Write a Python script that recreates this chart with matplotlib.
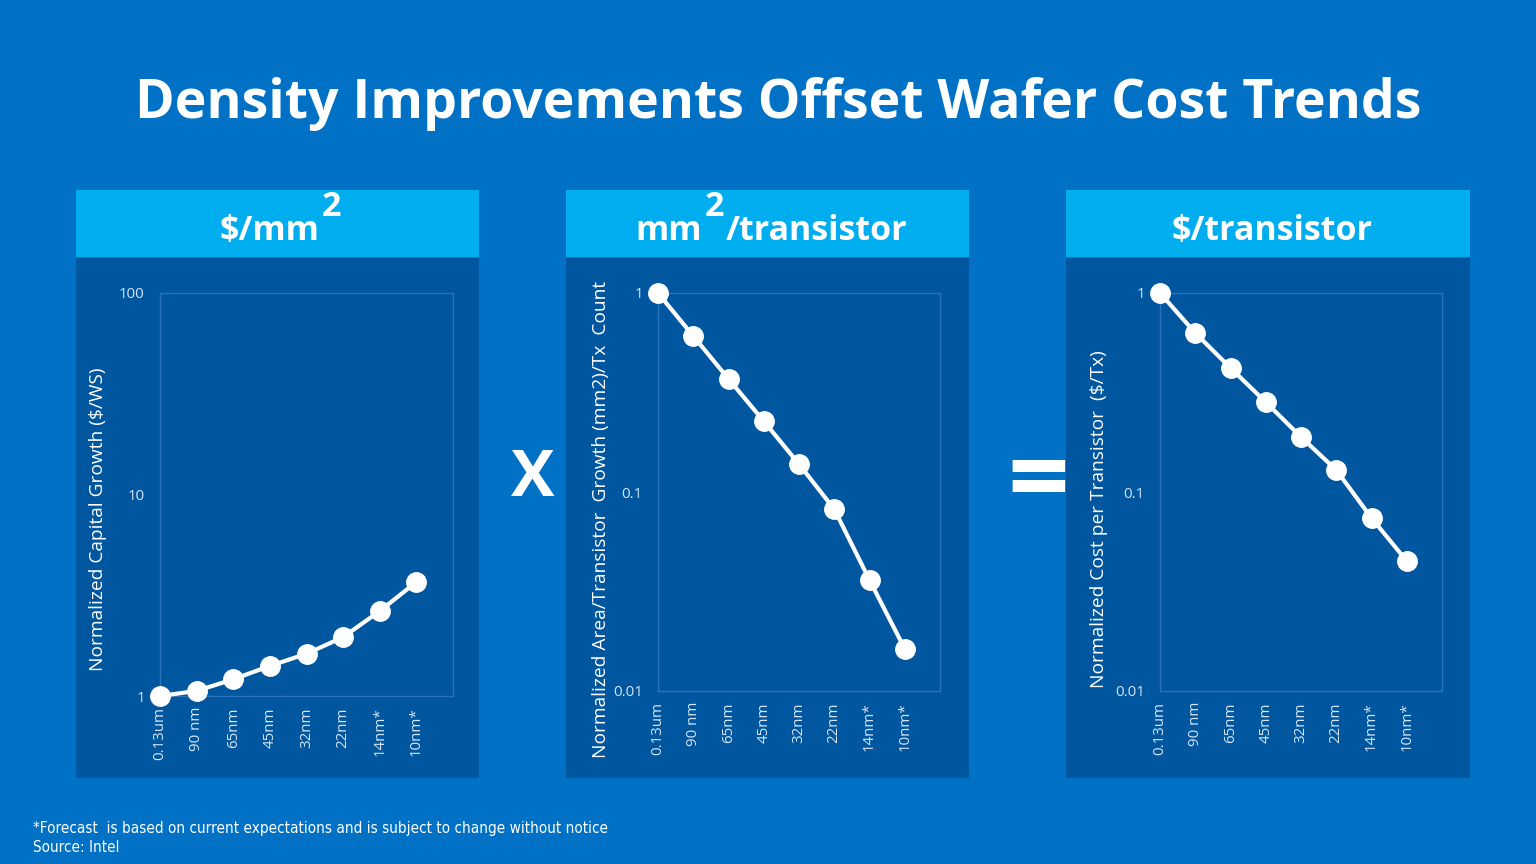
import matplotlib
matplotlib.use("Agg")
import matplotlib.pyplot as plt
from matplotlib.patches import Rectangle
from matplotlib.ticker import FixedLocator, NullLocator

# ---------------- data ----------------
nodes = ["0.13um", "90 nm", "65nm", "45nm", "32nm", "22nm", "14nm*", "10nm*"]
capital_growth = [1.0, 1.06, 1.21, 1.41, 1.62, 1.96, 2.64, 3.68]
area_per_tx = [1.0, 0.608, 0.37, 0.227, 0.138, 0.082, 0.0361, 0.0163]
cost_per_tx = [1.0, 0.63, 0.42, 0.283, 0.189, 0.129, 0.074, 0.045]

p1_ticks = [1, 10, 100]
p1_ticklabels = ["1", "10", "100"]
p23_ticks = [0.01, 0.1, 1]
p23_ticklabels = ["0.01", "0.1", "1"]

title = "Density Improvements Offset Wafer Cost Trends"
headers = [("$/mm", "2", ""), ("mm", "2", "/transistor"), ("$/transistor", "", "")]
ylabels = ["Normalized Capital Growth ($/WS)",
           "Normalized Area/Transistor  Growth (mm2)/Tx  Count",
           "Normalized Cost per Transistor  ($/Tx)"]
footnote = ["*Forecast  is based on current expectations and is subject to change without notice",
            "Source: Intel"]

# ---------------- style ----------------
W, H = 1536, 864
BG = "#0071C5"
PANEL = "#00569F"
HEAD = "#00AEEF"
FRAME = "#2A72BA"
TICK = "#D6E6F5"
FONT = ["Open Sans", "DejaVu Sans"]

fig = plt.figure(figsize=(W / 100, H / 100), dpi=100)
fig.patch.set_facecolor(BG)


def fx(x):
    return x / W


def fy(y):
    return 1 - y / H


def rect(x0, y0, x1, y1, color):
    fig.patches.append(Rectangle((fx(x0), fy(y1)), fx(x1) - fx(x0), fy(y0) - fy(y1),
                                 transform=fig.transFigure, facecolor=color,
                                 edgecolor="none", zorder=-5))


fig.text(fx(778), fy(104), title, ha="center", va="center", color="white",
         fontsize=38.6, fontweight="bold", family=FONT)

panels = [(76, 479), (566, 969), (1066, 1470)]
axes_px = [(160, 453, 293, 696), (658, 940, 293, 691), (1160, 1442, 293, 691)]
ylabel_x = [98, 601, 1099]
series = [capital_growth, area_per_tx, cost_per_tx]
ylims = [(1, 100), (0.01, 1), (0.01, 1)]
ticks = [(p1_ticks, p1_ticklabels), (p23_ticks, p23_ticklabels), (p23_ticks, p23_ticklabels)]

for (x0, x1) in panels:
    rect(x0, 190, x1, 257, HEAD)
    rect(x0, 258, x1, 778, PANEL)

fig.canvas.draw()
renderer = fig.canvas.get_renderer()

# headers with raised "2"
for (x0, x1), (a, sup, b) in zip(panels, headers):
    cx = (x0 + x1) / 2 + 4
    kw = dict(color="white", fontsize=24.5, fontweight="bold", family=FONT, va="baseline")
    ta = fig.text(0, 0, a, **kw)
    wa = ta.get_window_extent(renderer).width
    ts = fig.text(0, 0, sup, **kw) if sup else None
    ws = ts.get_window_extent(renderer).width if sup else 0
    tb = fig.text(0, 0, b, **kw) if b else None
    wb = tb.get_window_extent(renderer).width if b else 0
    gap = 2 if sup else 0
    total = wa + ws + wb + 2 * gap
    start = cx - total / 2
    base = 240
    ta.set_position((fx(start), fy(base)))
    if sup:
        ts.set_position((fx(start + wa + gap), fy(base - 24)))
    if b:
        tb.set_position((fx(start + wa + ws + 2 * gap), fy(base)))

for i in range(3):
    ax0, ax1, ay0, ay1 = axes_px[i]
    ax = fig.add_axes([fx(ax0), fy(ay1), fx(ax1) - fx(ax0), fy(ay0) - fy(ay1)])
    ax.set_facecolor(PANEL)
    xs = list(range(len(nodes)))
    ax.plot(xs, series[i], color="white", lw=3, marker="o", markersize=14,
            markerfacecolor="white", markeredgecolor="white", clip_on=False, zorder=5)
    ax.set_yscale("log")
    ax.set_ylim(*ylims[i])
    ax.set_xlim(0, len(nodes))
    ax.yaxis.set_major_locator(FixedLocator(ticks[i][0]))
    ax.yaxis.set_minor_locator(NullLocator())
    ax.set_yticklabels(ticks[i][1])
    ax.set_xticks(xs)
    ax.set_xticklabels(nodes, rotation=90)
    ax.tick_params(axis="both", length=0, colors=TICK, labelsize=10.8)
    ax.tick_params(axis="y", pad=11)
    ax.tick_params(axis="x", pad=8)
    for lab in ax.get_xticklabels() + ax.get_yticklabels():
        lab.set_family(FONT)
    for s in ax.spines.values():
        s.set_color(FRAME)
        s.set_linewidth(1)
    fig.text(fx(ylabel_x[i]), fy(519), ylabels[i], rotation=90, ha="center", va="center",
             color="white", fontsize=13.8, family=FONT)

fig.text(fx(533), fy(480), "X", ha="center", va="center", color="white",
         fontsize=47, fontweight="bold", family=FONT)
fig.text(fx(1038), fy(486), "=", ha="center", va="center", color="white",
         fontsize=78, fontweight="bold", family=FONT)

for j, yy in enumerate([828, 847]):
    fig.text(fx(33), fy(yy), footnote[j], ha="left", va="center", color="white",
             fontsize=11, family="DejaVu Sans", fontstretch="condensed")

fig.savefig("out.png", dpi=100, facecolor=BG)
